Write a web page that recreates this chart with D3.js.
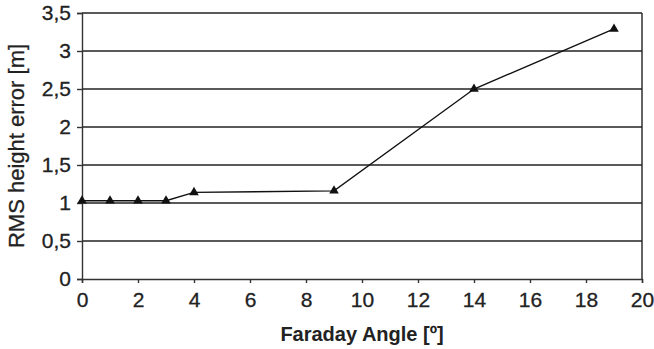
<!DOCTYPE html>
<html>
<head>
<meta charset="utf-8">
<script src="https://cdn.jsdelivr.net/npm/d3@7"></script>
<style>
  body { margin: 0; background: #fff; }
  text { font-family: "Liberation Sans", Arial, sans-serif; fill: #222; }
</style>
</head>
<body>
<div id="chart"></div>
<script>
const faradayAngle = [0, 1, 2, 3, 4, 9, 14, 19];
const rmsError = [1.03, 1.03, 1.03, 1.03, 1.14, 1.16, 2.5, 3.29];
const xTicks = [0, 2, 4, 6, 8, 10, 12, 14, 16, 18, 20];
const yTicks = [0, 0.5, 1, 1.5, 2, 2.5, 3, 3.5];

function createChart() {
    const container = d3.select("#chart");
    const margin = { top: 13, right: 12, bottom: 70, left: 82 };
    const width = 654 - margin.left - margin.right;
    const height = 349 - margin.top - margin.bottom;

    const svg = container.append("svg")
        .attr("width", 654)
        .attr("height", 349);

    const g = svg.append("g")
        .attr("transform", `translate(${margin.left}, ${margin.top})`);

    // decimal comma, as in the original
    const locale = d3.formatLocale({ decimal: ",", thousands: ".", grouping: [3], currency: ["", ""] });
    const fmt = locale.format("~g");

    const xScale = d3.scaleLinear().domain([0, 20]).range([0, width]);
    const yScale = d3.scaleLinear().domain([0, 3.5]).range([height, 0]);

    // gridlines
    g.selectAll(".grid")
        .data(yTicks.slice(1))
        .enter()
        .append("line")
        .attr("class", "grid")
        .attr("x1", 0)
        .attr("x2", width)
        .attr("y1", d => yScale(d))
        .attr("y2", d => yScale(d))
        .attr("stroke", "#222")
        .attr("stroke-width", 1.4);

    // right border
    g.append("line")
        .attr("x1", width).attr("x2", width)
        .attr("y1", 0).attr("y2", height)
        .attr("stroke", "#222")
        .attr("stroke-width", 1.4);

    const xAxis = d3.axisBottom(xScale).tickValues(xTicks).tickSize(4).tickPadding(9).tickFormat(fmt);
    const yAxis = d3.axisLeft(yScale).tickValues(yTicks).tickSize(5).tickPadding(6).tickFormat(fmt);

    const gx = g.append("g")
        .attr("transform", `translate(0, ${height})`)
        .call(xAxis);
    const gy = g.append("g").call(yAxis);

    [gx, gy].forEach(a => {
        a.select(".domain").attr("stroke", "#333").attr("stroke-width", 1.4);
        a.selectAll(".tick line").attr("stroke", "#333").attr("stroke-width", 1.4);
        a.selectAll("text")
            .style("font-size", "21px")
            .attr("fill", "#222")
            .attr("stroke", "#222")
            .attr("stroke-width", 0.3);
    });

    const pts = faradayAngle.map((x, i) => ({ x: x, y: rmsError[i] }));

    const line = d3.line()
        .x(d => xScale(d.x))
        .y(d => yScale(d.y));

    g.append("path")
        .datum(pts)
        .attr("d", line)
        .attr("fill", "none")
        .attr("stroke", "#111")
        .attr("stroke-width", 1.4);

    g.selectAll(".marker")
        .data(pts)
        .enter()
        .append("path")
        .attr("class", "marker")
        .attr("transform", d => `translate(${xScale(d.x)}, ${yScale(d.y)})`)
        .attr("d", d3.symbol().type(d3.symbolTriangle).size(40))
        .attr("fill", "#111");

    svg.append("text")
        .attr("transform", `translate(${margin.left + width / 2}, 341)`)
        .style("text-anchor", "middle")
        .style("font-size", "20px")
        .style("font-weight", "bold")
        .text("Faraday Angle [º]");

    svg.append("text")
        .attr("transform", "rotate(-90)")
        .attr("y", 24)
        .attr("x", -(margin.top + height / 2))
        .style("text-anchor", "middle")
        .style("font-size", "22px")
        .attr("stroke", "#222")
        .attr("stroke-width", 0.3)
        .text("RMS height error [m]");
}

createChart();
</script>
</body>
</html>
